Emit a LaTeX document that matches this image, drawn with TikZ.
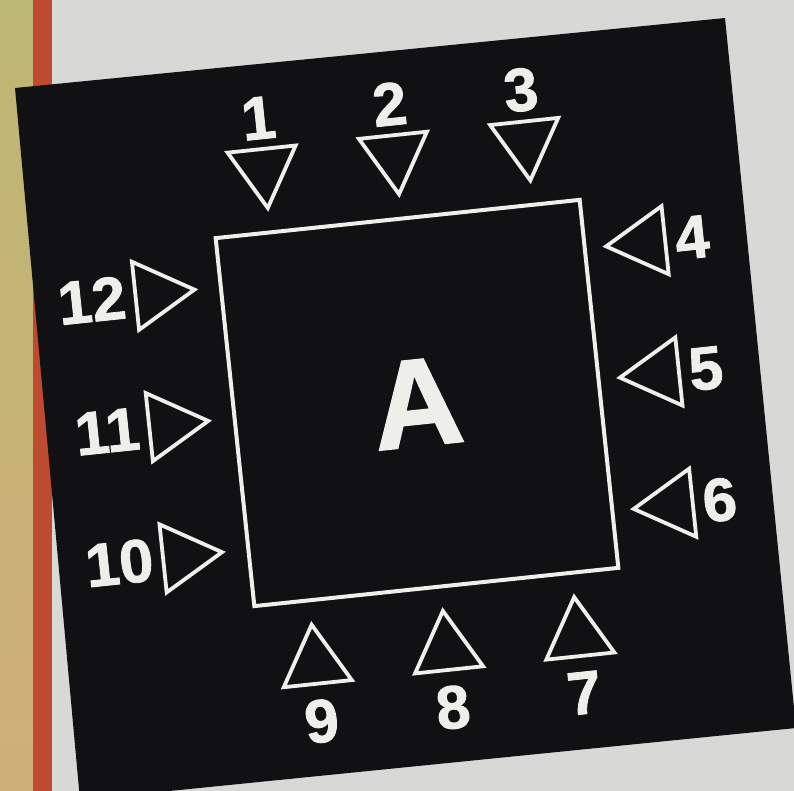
\documentclass[tikz,border=0pt]{standalone}
\usepackage{fontspec}
\setmainfont{Liberation Sans}
\newfontfamily\heavyfont[FakeBold=1.4]{Liberation Sans Bold}
\usepackage{tikz}
\usetikzlibrary{positioning, shapes.geometric}
\definecolor{boardblack}{HTML}{111113}
\definecolor{chalkwhite}{HTML}{EEEEEA}
\definecolor{papergray}{HTML}{D8D8D6}
\definecolor{stripred}{HTML}{BE4A30}
\definecolor{stripolive}{HTML}{BDB774}
\definecolor{striptan}{HTML}{CFAF78}
\tikzset{
  board/.style={fill=boardblack},
  room/.style={
    rectangle, draw=chalkwhite, line width=4pt, inner sep=0pt,
    minimum width=366pt, minimum height=370pt,
    text=chalkwhite, font=\fontsize{125}{125}\selectfont\heavyfont
  },
  marker/.style={
    regular polygon, regular polygon sides=3, draw=chalkwhite,
    line width=3.8pt, minimum size=79pt, inner sep=0pt
  },
  seatnum/.style={
    text=chalkwhite, inner sep=0pt,
    font=\fontsize{61}{61}\selectfont\heavyfont
  }
}

\begin{document}
\begin{tikzpicture}[x=1pt, y=1pt]
\useasboundingbox (0,0) rectangle (794,791);
\clip (0,0) rectangle (794,791);

% paper and the strip on the left
\fill[papergray] (0,0) rectangle (794,791);
\shade[top color=stripolive, bottom color=striptan] (0,0) rectangle (33,791);
\fill[stripred] (33,0) rectangle (52,791);

% black board
\fill[board] (15,703) -- (725,773) -- (796,63) -- (80,-9) -- cycle;

\begin{scope}[shift={(417,388)}, rotate=6, transform shape]
% square A
\node[room] (sqa) at (0,0) {A};

% markers and numbers, side by side
\foreach \i/\x in {1/-128, 2/4, 3/136} {
  \node[marker, shape border rotate=180] (t\i) at (\x,249) {};
  \node[seatnum, above=8pt of t\i] (n\i) {\i};
}
\foreach \i/\y in {4/136, 5/4, 6/-128} {
  \node[marker, shape border rotate=90] (t\i) at (244,\y) {};
  \node[seatnum, right=8pt of t\i] (n\i) {\i};
}
\foreach \i/\x in {7/136, 8/4, 9/-128} {
  \node[marker] (t\i) at (\x,-249) {};
  \node[seatnum, below=14pt of t\i] (n\i) {\i};
}
\foreach \i/\y in {10/-128, 11/4, 12/136} {
  \node[marker, shape border rotate=-90] (t\i) at (-249,\y) {};
  \node[seatnum, left=8pt of t\i] (n\i) {\i};
}
\end{scope}
\end{tikzpicture}
\end{document}
